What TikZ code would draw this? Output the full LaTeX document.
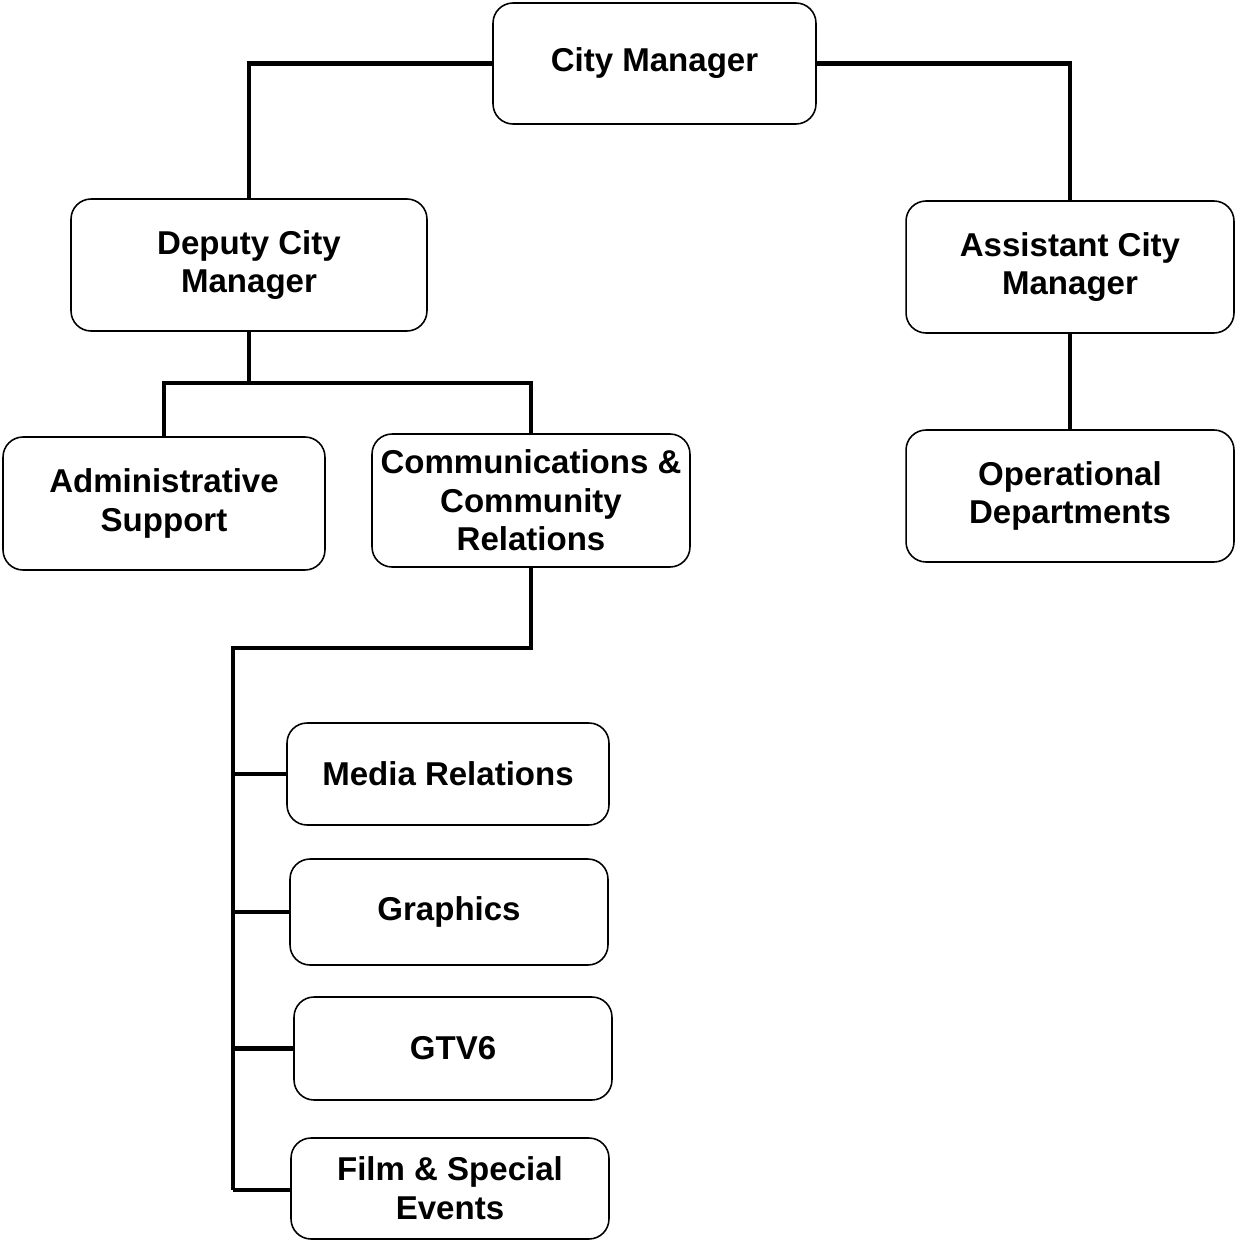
\documentclass[tikz,border=0pt]{standalone}
\usepackage{fontspec}
\setmainfont{Liberation Sans}
\usetikzlibrary{positioning,calc}
\tikzset{
  unit/.style={draw, rounded corners=0.4cm, line width=0.9pt, align=center, inner sep=0pt,
    font=\fontsize{18.8}{22}\selectfont\bfseries},
  link/.style={draw, line width=2.4pt}
}

\begin{document}
\begin{tikzpicture}[x=0.02cm, y=-0.02cm]
        \useasboundingbox (0,0) rectangle (1234,1240);
        %nodes
        \node[unit, minimum width=6.46cm, minimum height=2.42cm] (cm) at (654.5, 63.5) {City Manager};
        \node[unit, minimum width=7.12cm, minimum height=2.64cm] (dcm) at (249, 265) {Deputy City\\Manager};
        \node[unit, minimum width=6.56cm, minimum height=2.64cm] (acm) at (1070, 267) {Assistant City\\Manager};
        \node[unit, minimum width=6.44cm, minimum height=2.66cm] (admin) at (164, 503.5) {Administrative\\Support};
        \node[unit, minimum width=6.36cm, minimum height=2.66cm] (comm) at (531, 500.5) {Communications \&\\Community\\Relations};
        \node[unit, minimum width=6.56cm, minimum height=2.64cm] (ops) at (1070, 496) {Operational\\Departments};
        \node[unit, minimum width=6.44cm, minimum height=2.04cm] (media) at (448, 774) {Media Relations};
        \node[unit, minimum width=6.36cm, minimum height=2.12cm] (graphics) at (449, 912) {Graphics};
        \node[unit, minimum width=6.36cm, minimum height=2.06cm] (gtv) at (453, 1048.5) {GTV6};
        \node[unit, minimum width=6.36cm, minimum height=2.02cm] (film) at (450, 1188.5) {Film \& Special\\Events};
        \coordinate (dsplit) at (249, 383);
        \coordinate (cbend) at (233, 648);
        \coordinate (cend) at (233, 1190);
        %edges
        \path [link] (cm.west) -| (dcm.north);
        \path [link] (cm.east) -| (acm.north);
        \path [link] (dcm.south) -- (dsplit);
        \path [link] (admin.north) |- (dsplit) -| (comm.north);
        \path [link] (acm.south) -- (ops.north);
        \path [link] (comm.south) |- (cbend) -- (cend);
        \path [link] (cbend |- media.west) -- (media.west);
        \path [link] (cbend |- graphics.west) -- (graphics.west);
        \path [link] (cbend |- gtv.west) -- (gtv.west);
        \path [link] (cend) -- (film.west |- cend);
      \end{tikzpicture}
\end{document}
